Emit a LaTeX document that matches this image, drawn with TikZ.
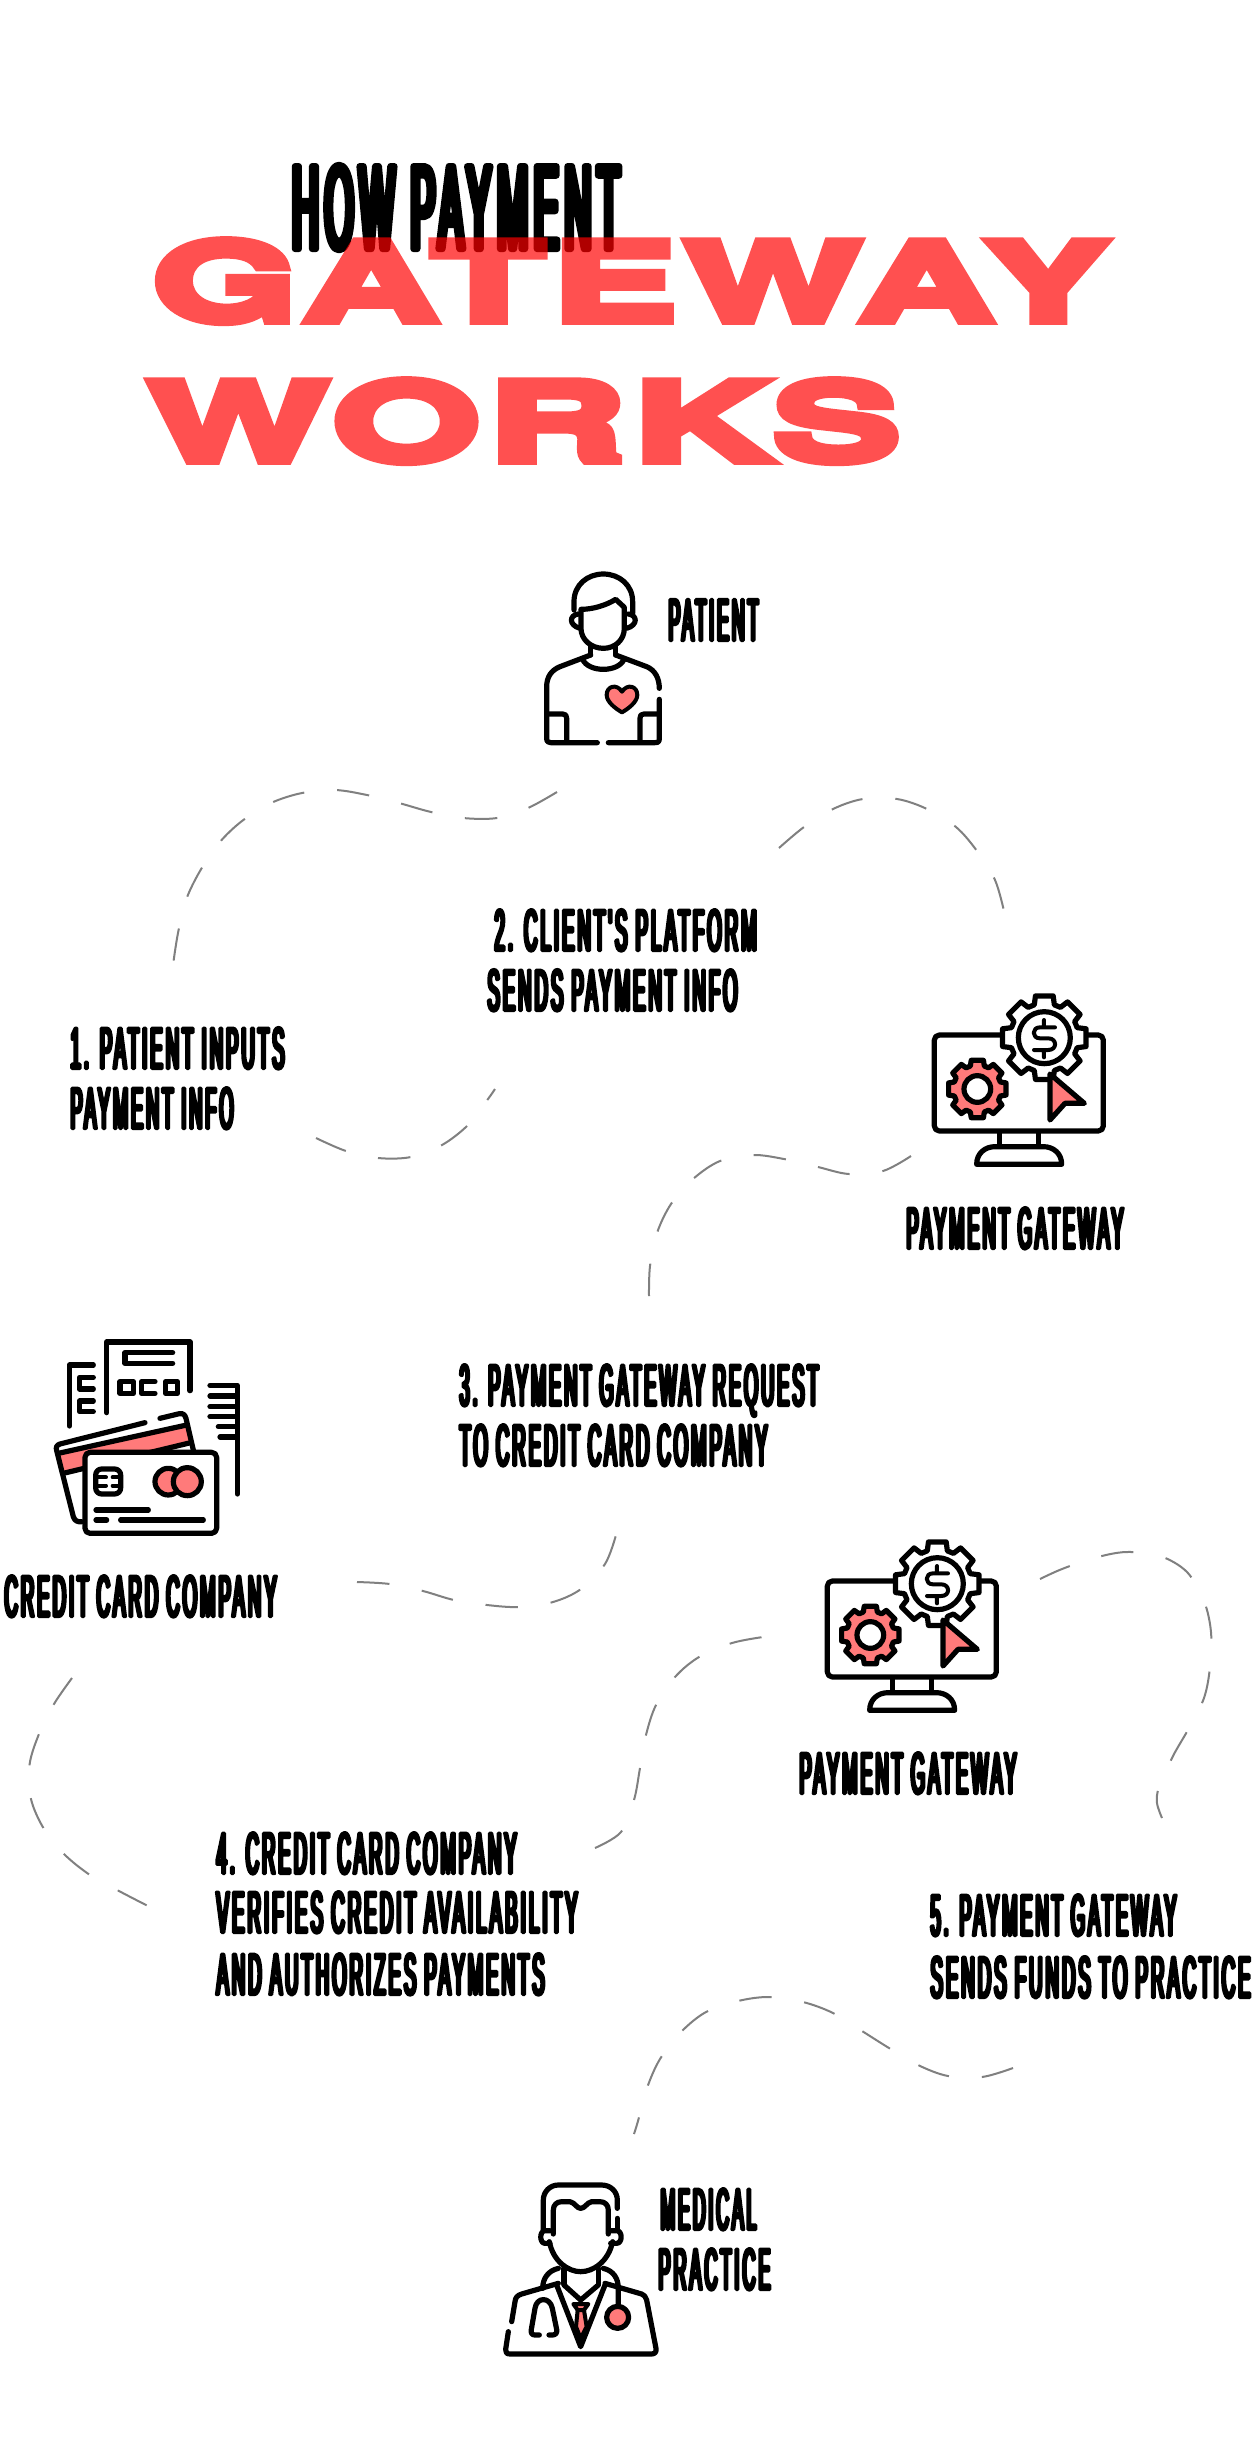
\documentclass[tikz,border=0pt]{standalone}
\usepackage{fontspec}
\usepackage{graphicx}
\usetikzlibrary{calc}
\newfontfamily\condfont[FakeStretch=0.3,FakeBold=5.5,LetterSpace=5]{Liberation Sans}
\newfontfamily\heavyfont[FakeStretch=1.5,FakeBold=8,LetterSpace=6]{TeX Gyre Heros Bold}
\definecolor{coral}{HTML}{FF7A7A}
\definecolor{flowgray}{HTML}{808080}
\tikzset{
  textline/.style={inner sep=0pt,outer sep=0pt,anchor=base west,text=black},
  titlered/.style={inner sep=0pt,outer sep=0pt,anchor=base west,text=red},
  ink/.style={draw=black,line width=5.2pt,line cap=round,line join=round},
  thinink/.style={draw=black,line width=4pt,line cap=round,line join=round},
  flow/.style={draw=flowgray,line width=2pt,dash pattern=on 32.5pt off 33pt,smooth,tension=0.55},
}
% \tl{name}{x}{baseline y}{width}{height}{text}: width and height are those of the ink
\newcommand{\tl}[6]{%
  \pgfmathsetmacro{\tlx}{#2+0.035*#5}%
  \pgfmathsetmacro{\tly}{#3-0.035*#5}%
  \pgfmathsetmacro{\tlw}{#4-0.07*#5}%
  \pgfmathsetmacro{\tlh}{0.93*#5}%
  \node[textline] (#1) at (\tlx,\tly) {\resizebox{\tlw pt}{\tlh pt}{\condfont #6}};}
\newcommand{\gearshape}[5]{%
  \path[ink,#5] ($(#1,#2)+(-17:#3)$) \foreach \a in {0,45,...,315}{
     -- ($(#1,#2)+(\a-17:#3)$) -- ($(#1,#2)+(\a-12:#4)$) -- ($(#1,#2)+(\a+12:#4)$) -- ($(#1,#2)+(\a+17:#3)$) -- ($(#1,#2)+(\a+28:#3)$)
  } -- cycle;}
\newcommand{\gatewayicon}[2]{%
 \begin{scope}[shift={(#1,#2)},x=0.3333pt,y=-0.3333pt]
  \draw[ink,fill=white,rounded corners=5pt] (103,195) rectangle (610,483);
  \draw[ink] (298,485)--(298,528) (415,485)--(415,528);
  \draw[ink] (230,583) .. controls (230,550) and (255,530) .. (285,530) -- (430,530) .. controls (460,530) and (485,550) .. (485,583) -- cycle;
  \gearshape{433}{203}{103}{128}{fill=white}
  \draw[ink] (433,203) circle[x radius=78,y radius=-78];
  \draw[thinink] (465,172)--(420,172) .. controls (395,172) and (395,205) .. (420,205) -- (445,205) .. controls (472,205) and (472,240) .. (445,240) -- (402,240) (432,150)--(432,172) (432,240)--(432,262);
  \gearshape{232}{357}{72}{88}{fill=coral}
  \draw[ink,fill=white] (232,357) circle[x radius=40,y radius=-40];
  \draw[ink,fill=coral] (450,312) -- (553,400) -- (495,400) -- (450,450) -- cycle;
 \end{scope}}
\begin{document}
\begin{tikzpicture}[x=1pt,y=-1pt,line join=round,miter limit=1]
\useasboundingbox (0,0) rectangle (1255,2461);
\fill[white] (0,0) rectangle (1255,2461);

% ---- title
\tl{thow}{289}{252}{334}{90}{HOW PAYMENT}
\begin{scope}[transparency group,opacity=0.686]
\node[titlered] (tgate) at (152,320.5) {\resizebox{956pt}{80pt}{\heavyfont GATEWAY}};
\node[titlered] (tworks) at (148,460.5) {\resizebox{752pt}{80pt}{\heavyfont WORKS}};
\end{scope}

% ---- labels
\tl{lpat}{667}{642}{93}{44}{PATIENT}
\tl{l2a}{493}{952}{265}{44}{2. CLIENT'S PLATFORM}
\tl{l2b}{486}{1012}{253}{44}{SENDS PAYMENT INFO}
\tl{l1a}{69}{1070}{217}{44}{1. PATIENT INPUTS}
\tl{l1b}{69}{1130}{166}{44}{PAYMENT INFO}
\tl{lgw1}{905}{1250}{220}{44}{PAYMENT GATEWAY}
\tl{l3a}{458}{1407}{362}{44}{3. PAYMENT GATEWAY REQUEST}
\tl{l3b}{458}{1467}{311}{44}{TO CREDIT CARD COMPANY}
\tl{lcc}{3}{1618}{275}{44}{CREDIT CARD COMPANY}
\tl{lgw2}{798}{1795}{220}{44}{PAYMENT GATEWAY}
\tl{l4a}{215}{1875}{303}{44}{4. CREDIT CARD COMPANY}
\tl{l4b}{215}{1934}{364}{44}{VERIFIES CREDIT AVAILABILITY}
\tl{l4c}{215}{1996}{331}{44}{AND AUTHORIZES PAYMENTS}
\tl{l5a}{929}{1937}{249}{44}{5. PAYMENT GATEWAY}
\tl{l5b}{929}{1999}{323}{44}{SENDS FUNDS TO PRACTICE}
\tl{lmeda}{659}{2231}{99}{44}{MEDICAL}
\tl{lmedb}{657}{2291}{115}{44}{PRACTICE}

% ---- dashed connectors
\coordinate (f1s) at (557,792); \coordinate (f1e) at (173,965);
\coordinate (f2s) at (779,848); \coordinate (f2e) at (1004,911);
\coordinate (f3s) at (316,1138); \coordinate (f3e) at (495,1089);
\coordinate (f4s) at (911,1156); \coordinate (f4e) at (649,1296);
\coordinate (f5s) at (357,1582); \coordinate (f5e) at (616,1535);
\coordinate (f6s) at (72,1678); \coordinate (f6e) at (148,1906);
\coordinate (f7s) at (595,1848); \coordinate (f7e) at (763,1637);
\coordinate (f8s) at (1040,1579); \coordinate (f8e) at (1162,1818);
\coordinate (f9s) at (1013,2068); \coordinate (f9e) at (634,2134);
\draw[flow] plot coordinates {(f1s) (528,808) (497,818) (463,818) (431,812) (399,803) (367,795) (335,790) (302,793) (271,803) (242,821) (219,843) (200,871) (186,900) (178,933) (f1e)};
\draw[flow] plot coordinates {(f2s) (804,827) (833,809) (863,799) (897,799) (927,809) (956,827) (977,851) (995,880) (f2e)};
\draw[flow] plot coordinates {(f3s) (346,1151) (378,1158) (411,1157) (442,1145) (468,1125) (488,1099) (f3e)};
\draw[flow] plot coordinates {(f4s) (883,1171) (849,1174) (818,1167) (784,1159) (753,1155) (720,1161) (693,1179) (671,1204) (657,1233) (650,1266) (f4e)};
\draw[flow] plot coordinates {(f5s) (390,1584) (423,1591) (454,1600) (487,1605) (519,1607) (553,1602) (581,1589) (605,1564) (f5e)};
\draw[flow] plot coordinates {(f6s) (54,1704) (39,1734) (29.5,1765) (31,1799) (44,1829) (64,1854) (90,1875) (119,1891) (f6e)};
\draw[flow] plot coordinates {(f7s) (621,1832) (634,1800) (640,1768) (646,1735) (656,1705) (675,1677) (699,1657) (732,1643) (f7e)};
\draw[flow] plot coordinates {(f8s) (1062,1569) (1094,1558) (1126,1552) (1160,1556) (1187,1572) (1204,1601) (1211,1632) (1210,1667) (1204,1698) (1189,1728) (1173,1756) (1159,1787) (1157,1803) (f8e)};
\draw[flow] plot coordinates {(f9s) (982,2077) (948,2076) (918,2065) (889,2048) (862,2031) (833,2013) (803,2002) (769,1997) (738,2001) (706,2012) (681,2032) (660,2059) (647,2088) (638,2121) (f9e)};

% ---- patient icon
\begin{scope}[shift={(500,550)},x=0.3333pt,y=-0.3333pt]
 \draw[ink] (222,180) -- (222,155) .. controls (222,105) and (262,72) .. (310,72) .. controls (358,72) and (398,105) .. (398,155) -- (398,190);
 \draw[ink] (243,178) .. controls (280,178) and (320,165) .. (347,148) -- (373,172) -- (373,235) .. controls (373,270) and (345,295) .. (310,295) .. controls (275,295) and (243,270) .. (243,235) -- cycle;
 \draw[ink] (235,192) .. controls (208,195) and (205,225) .. (240,235);
 \draw[ink] (385,192) .. controls (412,195) and (415,225) .. (380,235);
 \draw[ink] (272,290) -- (272,315) (347,290) -- (347,315);
 \draw[ink] (248,328) .. controls (265,368) and (355,368) .. (372,328);
 \draw[ink] (272,315) -- (180,350) .. controls (155,360) and (140,380) .. (140,410) -- (140,565) .. controls (140,575) and (145,578) .. (152,578) -- (292,578);
 \draw[ink] (325,578) -- (465,578) .. controls (475,578) and (478,575) .. (478,565) -- (478,448);
 \draw[ink] (478,415) .. controls (478,385) and (465,360) .. (440,350) -- (347,315);
 \draw[ink] (140,492) -- (188,492) .. controls (197,492) and (200,496) .. (200,505) -- (200,575);
 \draw[ink] (478,492) -- (432,492) .. controls (423,492) and (420,496) .. (420,505) -- (420,575);
 \draw[thinink,fill=coral] (366,425) .. controls (350,400) and (320,408) .. (320,435) .. controls (320,455) and (345,475) .. (366,487) .. controls (387,475) and (412,455) .. (412,435) .. controls (412,408) and (382,400) .. (366,425) -- cycle;
\end{scope}

% ---- gateway icons
\gatewayicon{900}{970}
\gatewayicon{793}{1516}

% ---- credit card icon
\begin{scope}[shift={(40,1320)},x=0.3333pt,y=-0.3333pt]
 \draw[ink] (200,278) -- (200,66) -- (450,66) -- (450,212);
 \draw[ink] (398,98) -- (255,98) -- (255,130) -- (398,130);
 \draw[ink] (240,185) rectangle (280,220);
 \draw[ink] (345,185) -- (305,185) -- (305,220) -- (345,220);
 \draw[ink] (377,185) rectangle (412,220);
 \draw[ink] (160,135) -- (88,135) -- (88,318);
 \draw[ink] (160,172) -- (118,172) -- (118,207) -- (160,207);
 \draw[ink] (160,243) -- (118,243) -- (118,275) -- (160,275);
 \draw[ink] (510,196) -- (592,196) -- (592,522);
 \draw[ink] (510,228) -- (590,228) (510,260) -- (590,260) (510,290) -- (590,290) (535,320) -- (590,320) (540,351) -- (590,351);
 \fill[white] (48,378) -- (425,283) -- (460,395) -- (130,610) -- (105,600) -- cycle;
 \fill[coral] (58,405) -- (438,318) -- (452,365) -- (72,458) -- cycle;
 \draw[ink] (55,400) -- (440,315);
 \draw[ink] (70,460) -- (452,368);
 \draw[ink] (315,308) -- (60,372) .. controls (50,375) and (47,382) .. (50,392) -- (100,590) .. controls (104,602) and (112,607) .. (125,605);
 \draw[ink] (360,295) -- (418,281) .. controls (430,279) and (435,285) .. (438,295) -- (460,390);
 \draw[ink,fill=white,rounded corners=5pt] (135,397) rectangle (530,640);
 \draw[ink,rounded corners=6pt] (167,447) rectangle (242,522);
 \draw[thinink] (172,472) -- (198,472) (218,472) -- (238,472) (172,497) -- (198,497) (218,497) -- (238,497);
 \draw[ink,fill=coral] (385,485) circle[x radius=40,y radius=-40];
 \draw[ink,fill=coral] (442,485) circle[x radius=42,y radius=-42];
 \draw[ink] (168,570) -- (325,570) (168,600) -- (200,600) (242,600) -- (490,600);
\end{scope}

% ---- doctor icon
\begin{scope}[shift={(490,2160)},x=0.3333pt,y=-0.3333pt]
 \draw[ink] (160,210) -- (160,120) .. controls (160,95) and (180,75) .. (205,75) -- (335,75) .. controls (362,75) and (382,95) .. (382,120) -- (382,145);
 \draw[ink] (382,175) -- (382,210);
 \draw[ink] (190,222) -- (190,150) .. controls (190,135) and (200,125) .. (215,125) -- (240,125) .. controls (255,128) and (260,145) .. (272,145) .. controls (285,145) and (290,128) .. (305,125) -- (330,125) .. controls (345,125) and (355,135) .. (355,150) -- (355,222);
 \draw[ink] (178,245) .. controls (190,305) and (235,335) .. (272,335) .. controls (310,335) and (355,305) .. (368,245);
 \draw[ink] (180,212) -- (165,212) .. controls (148,212) and (148,250) .. (165,250) -- (180,250);
 \draw[ink] (362,212) -- (380,212) .. controls (398,212) and (398,250) .. (380,250) -- (362,250);
 \draw[ink] (222,325) -- (222,372) (325,325) -- (325,372);
 \draw[ink] (158,385) .. controls (158,355) and (175,332) .. (205,325);
 \draw[ink] (340,325) .. controls (370,332) and (385,355) .. (385,385) -- (385,435);
 \draw[ink,fill=coral] (383,472) circle[x radius=33,y radius=-33];
 \draw[ink] (205,370) -- (95,402) .. controls (82,406) and (76,413) .. (75,425) -- (65,485);
 \draw[ink] (55,515) -- (47,568) .. controls (46,577) and (50,582) .. (60,582) -- (485,582) .. controls (495,582) and (500,575) .. (498,565) -- (470,420) .. controls (468,410) and (462,405) .. (455,402) -- (345,370);
 \draw[ink] (200,375) -- (272,560) -- (345,375);
 \draw[ink] (222,375) -- (272,420) -- (325,375);
 \draw[thinink,fill=coral] (250,432) -- (295,432) -- (282,450) -- (263,450) -- cycle;
 \draw[thinink,fill=coral] (263,450) -- (282,450) -- (290,500) -- (272,535) -- (258,500) -- cycle;
 \draw[ink] (148,525) -- (135,525) .. controls (125,525) and (122,518) .. (124,508) -- (135,445) .. controls (140,410) and (180,410) .. (187,445) -- (200,508) .. controls (202,518) and (197,525) .. (188,525) -- (177,525);
\end{scope}
\end{tikzpicture}
\end{document}
